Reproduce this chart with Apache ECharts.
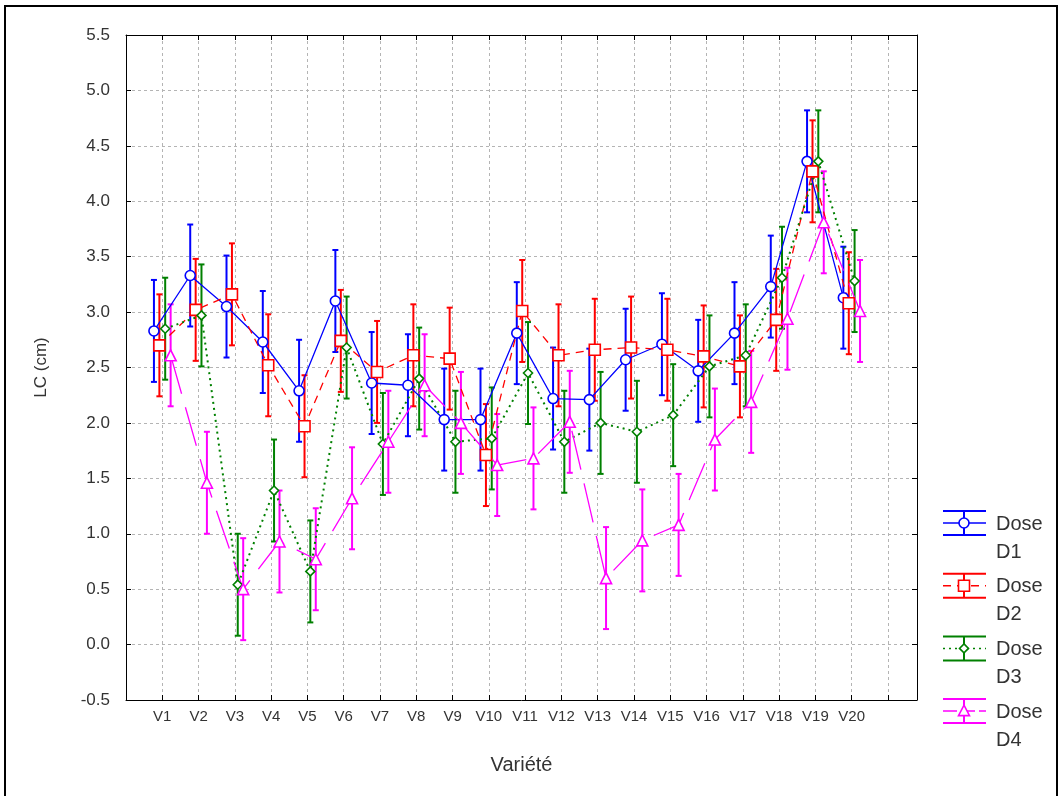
<!DOCTYPE html>
<html>
<head>
<meta charset="utf-8">
<script src="https://cdn.jsdelivr.net/npm/echarts@6/dist/echarts.min.js"></script>
<style>
html,body{margin:0;padding:0;background:#fff;}
#frame{position:absolute;left:4px;top:5px;width:1054px;height:810px;border:2px solid #000;box-sizing:border-box;}
#chart{position:absolute;left:0;top:0;width:1060px;height:796px;}
</style>
</head>
<body>
<div id="frame"></div>
<div id="chart"></div>
<script>
// ---- data ----
const categories = ['V1','V2','V3','V4','V5','V6','V7','V8','V9','V10','V11','V12','V13','V14','V15','V16','V17','V18','V19','V20'];
const seriesNames = ['Dose D1','Dose D2','Dose D3','Dose D4'];
const doseD1 = [2.83,3.33,3.05,2.73,2.29,3.10,2.36,2.34,2.03,2.03,2.81,2.22,2.21,2.57,2.71,2.47,2.81,3.23,4.36,3.13];
const doseD2 = [2.70,3.02,3.16,2.52,1.97,2.74,2.46,2.61,2.58,1.71,3.01,2.61,2.66,2.68,2.66,2.60,2.51,2.93,4.27,3.08];
const doseD3 = [2.85,2.97,0.54,1.39,0.66,2.68,1.81,2.40,1.83,1.86,2.45,1.83,2.00,1.92,2.07,2.51,2.61,3.31,4.36,3.28];
const doseD4 = [2.61,1.46,0.50,0.93,0.77,1.32,1.83,2.34,2.00,1.62,1.68,2.01,0.60,0.94,1.08,1.85,2.19,2.94,3.81,3.01];
const errorHalf = [0.46,0.46,0.46,0.46];
const yMin = -0.5, yMax = 5.5, yStep = 0.5;
const xAxisTitle = 'Variété';
const yAxisTitle = 'LC (cm)';

// ---- styles ----
const values = [doseD1, doseD2, doseD3, doseD4];
const colors = ['#0000ff','#ff0000','#008000','#ff00ff'];
const dashes = ['solid',[8,6],[2,4],[40,14]];
const symbols = ['circle','rect','diamond','triangle'];
const symbolSizes = [10,11,9,11];
const offsets = [-0.23,-0.08,0.08,0.23];
const textColor = '#333';
const font = '"Liberation Sans", Arial, sans-serif';

const chart = echarts.init(document.getElementById('chart'));
const series = [];
values.forEach((vals, s) => {
  const pts = vals.map((v, i) => [i + 1 + offsets[s], v]);
  series.push({
    type: 'custom',
    name: seriesNames[s] + ' err',
    xAxisIndex: 0, yAxisIndex: 0,
    z: 2,
    silent: true,
    data: vals.map((v, i) => [i + 1 + offsets[s], v - errorHalf[s], v + errorHalf[s]]),
    renderItem: function (params, api) {
      const lo = api.coord([api.value(0), api.value(1)]);
      const hi = api.coord([api.value(0), api.value(2)]);
      const w = 3;
      const st = {stroke: colors[s], lineWidth: 2};
      return {type: 'group', children: [
        {type: 'line', shape: {x1: lo[0], y1: lo[1], x2: hi[0], y2: hi[1]}, style: st},
        {type: 'line', shape: {x1: lo[0]-w, y1: lo[1], x2: lo[0]+w, y2: lo[1]}, style: st},
        {type: 'line', shape: {x1: hi[0]-w, y1: hi[1], x2: hi[0]+w, y2: hi[1]}, style: st}
      ]};
    }
  });
  series.push({
    type: 'line',
    name: seriesNames[s],
    xAxisIndex: 0, yAxisIndex: 0,
    z: 3,
    data: pts,
    symbol: symbols[s],
    symbolSize: symbolSizes[s],
    showAllSymbol: true,
    lineStyle: {color: colors[s], width: s === 2 ? 2 : 1.3, type: dashes[s]},
    itemStyle: {color: '#ffffff', borderColor: colors[s], borderWidth: 1.6},
    emphasis: {disabled: true},
    animation: false
  });
});

// legend drawn as graphic
const graphics = [];
const lx0 = 943, lx1 = 986, lxm = 964;
seriesNames.forEach((nm, s) => {
  const y = 511 + s * 62.7;
  const st = {stroke: colors[s], lineWidth: 2};
  graphics.push({type:'line', shape:{x1:lx0,y1:y,x2:lx1,y2:y}, style:st});
  graphics.push({type:'line', shape:{x1:lx0,y1:y+24,x2:lx1,y2:y+24}, style:st});
  graphics.push({type:'line', shape:{x1:lxm,y1:y,x2:lxm,y2:y+24}, style:st});
  graphics.push({type:'line', shape:{x1:lx0,y1:y+12,x2:lx1,y2:y+12}, style:{stroke:colors[s], lineWidth: 1.5, lineDash: dashes[s] === 'solid' ? null : (s === 3 ? [14,4] : dashes[s])}});
  const my = y + 12;
  const mst = {fill:'#fff', stroke: colors[s], lineWidth: 1.6};
  if (s === 0) graphics.push({type:'circle', shape:{cx:lxm, cy:my, r:5}, style:mst});
  if (s === 1) graphics.push({type:'rect', shape:{x:lxm-5.5, y:my-5.5, width:11, height:11}, style:mst});
  if (s === 2) graphics.push({type:'polygon', shape:{points:[[lxm,my-4.5],[lxm+4.5,my],[lxm,my+4.5],[lxm-4.5,my]]}, style:mst});
  if (s === 3) graphics.push({type:'polygon', shape:{points:[[lxm,my-6],[lxm+5.5,my+4.5],[lxm-5.5,my+4.5]]}, style:mst});
  const parts = nm.split(' ');
  graphics.push({type:'text', x: 996, y: y + 13, style:{text: parts[0], fill:textColor, font:'20px "Liberation Sans", Arial, sans-serif', verticalAlign:'middle'}});
  graphics.push({type:'text', x: 996, y: y + 41, style:{text: parts[1], fill:textColor, font:'20px "Liberation Sans", Arial, sans-serif', verticalAlign:'middle'}});
});

const gridLine = {show: true, lineStyle: {color: '#b4b4b4', type: [3,3], width: 1}};
const axLine = {show: true, onZero: false, lineStyle: {color: '#000', width: 1}};
const tick = {show: true, inside: true, length: 5, lineStyle: {color: '#000'}};

chart.setOption({
  animation: false,
  grid: {left: 126, top: 35, right: 143, bottom: 96, containLabel: false},
  xAxis: [{
    type: 'value', min: 0, max: 21.8, interval: 1, position: 'bottom',
    axisLine: axLine, axisTick: tick,
    splitLine: gridLine,
    axisLabel: {color: textColor, fontSize: 15, fontFamily: font, margin: 9,
      showMinLabel: false, showMaxLabel: false,
      formatter: v => (Number.isInteger(v) && v >= 1 && v <= categories.length) ? categories[v - 1] : ''},
    name: xAxisTitle, nameLocation: 'middle', nameGap: 55,
    nameTextStyle: {color: textColor, fontSize: 20, fontFamily: font}
  }, {
    type: 'value', min: 0, max: 21.8, interval: 1, position: 'top',
    axisLine: axLine, axisTick: tick,
    axisLabel: {show: false}, splitLine: {show: false}
  }],
  yAxis: [{
    type: 'value', min: yMin, max: yMax, interval: yStep, position: 'left',
    axisLine: axLine, axisTick: tick,
    splitLine: gridLine,
    axisLabel: {color: textColor, fontSize: 17, fontFamily: font, margin: 16, formatter: v => v.toFixed(1)},
    name: yAxisTitle, nameLocation: 'middle', nameGap: 76, nameRotate: 90,
    nameTextStyle: {color: textColor, fontSize: 17, fontFamily: font}
  }, {
    type: 'value', min: yMin, max: yMax, interval: yStep, position: 'right',
    axisLine: axLine, axisTick: tick,
    axisLabel: {show: false}, splitLine: {show: false}
  }],
  series: series,
  graphic: graphics
});
</script>
</body>
</html>
